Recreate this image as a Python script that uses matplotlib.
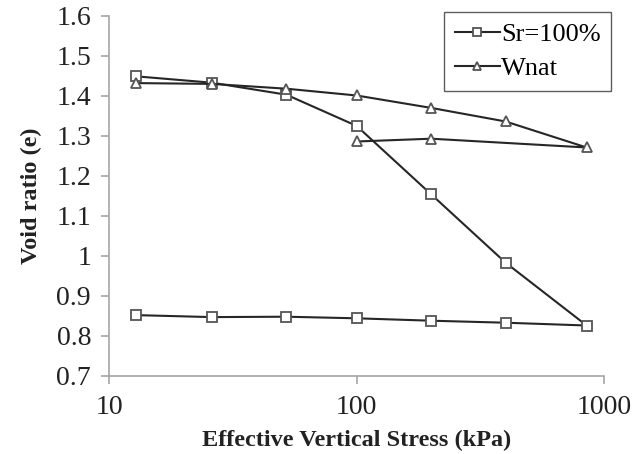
import numpy as np
import matplotlib.pyplot as plt

plt.rcParams['font.family'] = ['Liberation Serif', 'DejaVu Serif']

# saturated sample: loading then unloading
sr_stress = [12.8, 26, 52, 100, 200, 400, 850, 400, 200, 100, 52, 26, 12.8]
sr_void = [1.449, 1.433, 1.403, 1.325, 1.154, 0.983, 0.826,
           0.833, 0.838, 0.844, 0.848, 0.847, 0.852]

# natural water content sample
wn_stress = [12.8, 26, 52, 100, 200, 400, 850, 200, 100]
wn_void = [1.432, 1.430, 1.418, 1.401, 1.370, 1.336, 1.271, 1.293, 1.286]

axis_grey = '#a6a6a6'

fig = plt.figure(figsize=(6.42, 4.54), dpi=100)
ax = fig.add_axes([0.170, 0.172, 0.771, 0.793])

ax.plot(sr_stress, sr_void, color='#262626', lw=1.5, marker='s', ms=7.5,
        mfc='white', mec='#555555', mew=1.3, label='Sr=100%')
ax.plot(wn_stress, wn_void, color='#262626', lw=1.5, marker='^', ms=7.5,
        mfc='white', mec='#555555', mew=1.3, label='Wnat')

ax.set_xscale('log')
ax.set_xlim(10, 1000)
ax.set_ylim(0.7, 1.6)
ax.set_xticks([10, 100, 1000])
ax.set_xticklabels(['10', '100', '1000'])
ax.minorticks_off()
ax.set_yticks(np.arange(0.7, 1.61, 0.1))
ax.set_yticklabels(['0.7', '0.8', '0.9', '1', '1.1', '1.2', '1.3', '1.4', '1.5', '1.6'])

for side in ['top', 'right']:
    ax.spines[side].set_visible(False)
for side in ['left', 'bottom']:
    ax.spines[side].set_color(axis_grey)
    ax.spines[side].set_linewidth(1.2)
ax.tick_params(axis='both', direction='out', length=6, width=1.2,
               color=axis_grey, labelsize=20, labelcolor='#222222')
ax.tick_params(axis='y', pad=7)
ax.tick_params(axis='x', pad=8)

ax.set_xlabel('Effective Vertical Stress (kPa)', fontsize=17.5,
              fontweight='bold', color='#222222', labelpad=7)
ax.set_ylabel('Void ratio (e)', fontsize=17.5, fontweight='bold',
              color='#222222', labelpad=10)

leg = ax.legend(loc='upper right', bbox_to_anchor=(1.025, 1.025), fontsize=19,
                frameon=True, fancybox=False, handlelength=1.7,
                handletextpad=0.05, borderpad=0.4, labelspacing=0.4,
                borderaxespad=0.2, markerscale=0.7)
leg.get_frame().set_edgecolor('#333333')
leg.get_frame().set_linewidth(1.0)

fig.savefig('out.png', dpi=100)
